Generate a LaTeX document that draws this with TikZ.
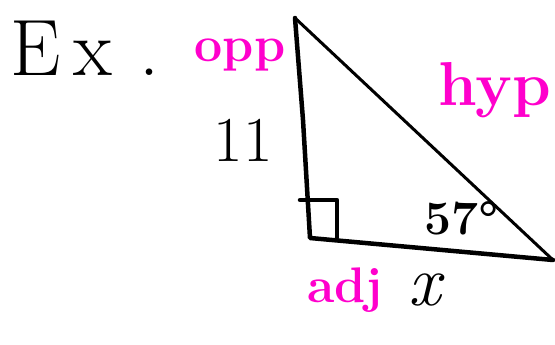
\documentclass[tikz,border=0pt]{standalone}
\usepackage{tikz}
\usetikzlibrary{positioning}
\definecolor{inkBlack}{HTML}{000000}
\definecolor{inkPink}{HTML}{FF00CC}

\begin{document}
\begin{tikzpicture}[x=1pt,y=-1pt,line cap=round,line join=round,
    pen/.style={draw=inkBlack,line width=4.5pt},
    pinklbl/.style={text=inkPink,inner sep=0pt,font=\fontsize{50}{50}\selectfont\bfseries},
    blacklbl/.style={text=inkBlack,inner sep=0pt}]
  \useasboundingbox (0,0) rectangle (555,345);
  % triangle corners
  \coordinate (top) at (295,18);
  \coordinate (rt) at (310,238);
  \coordinate (far) at (553,260);
  \draw[pen] (top) -- (303,120) -- (rt) -- (far);
  \draw[draw=inkBlack,line width=3pt] (top) -- (far);
  % right angle mark
  \draw[pen] (300,200) -- (337,200) -- (337,238);
  \node[blacklbl,anchor=west,font=\fontsize{80}{80}\selectfont] (ex) at (10,48) {E\,x\,\,.};
  \node[pinklbl] (opp) at (240,55) {opp};
  \node[blacklbl,font=\fontsize{64}{64}\selectfont] (eleven) at (243,140) {11};
  \node[pinklbl,anchor=east,font=\fontsize{62}{62}\selectfont\bfseries] (hyp) at (551,90) {hyp};
  \node[blacklbl,font=\fontsize{48}{48}\selectfont\bfseries] (ang) at (462,218) {57\textdegree};
  \node[pinklbl] (adj) at (345,290) {adj};
  \node[blacklbl,font=\fontsize{72}{72}\selectfont\itshape] (xv) at (425,290) {x};
\end{tikzpicture}
\end{document}
